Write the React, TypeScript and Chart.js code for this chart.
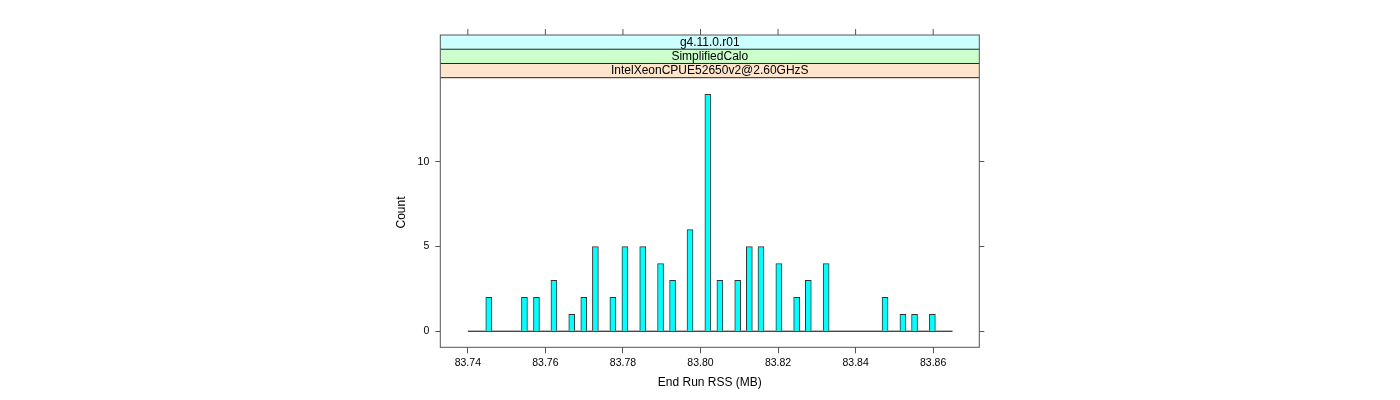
import React, { useEffect, useRef } from "react";
import { Chart, registerables } from "chart.js";

Chart.register(...registerables);

// Histogram bars (bin centre in MB, count)
const binCenters = [
  83.7454, 83.7546, 83.7577, 83.7622, 83.7668, 83.7699, 83.7729, 83.7774,
  83.7805, 83.7851, 83.7897, 83.7928, 83.7973, 83.8019, 83.805, 83.8096,
  83.8126, 83.8156, 83.8202, 83.8248, 83.8278, 83.8324, 83.8476, 83.8522,
  83.8552, 83.8598,
];
const counts = [
  2, 2, 2, 3, 1, 2, 5, 2, 5, 5, 4, 3, 6, 14, 3, 3, 5, 5, 4, 2, 3, 4, 2, 1, 1, 1,
];

// Histogram baseline extent (breaks range)
const baselineX = [83.74, 83.865];

// Axes
const xRange = [83.7329, 83.8719];
const yRange = [-0.95, 14.98];
const xTicks = [83.74, 83.76, 83.78, 83.8, 83.82, 83.84, 83.86];
const yTicks = [0, 5, 10];

// Strips (top to bottom)
const stripLabels = ["g4.11.0.r01", "SimplifiedCalo", "IntelXeonCPUE52650v2@2.60GHzS"];
const stripColors = ["#CCFFFF", "#CCFFCC", "#FFE5CC"];

const FONT = '"Liberation Sans", Arial, Helvetica, sans-serif';

export default function App() {
  const ref = useRef<HTMLCanvasElement>(null);

  useEffect(() => {
    if (!ref.current) return;
    const stripH = 14.23;
    const stripPlugin = {
      id: "latticeStrips",
      afterDraw(chart: any) {
        const { ctx, chartArea: a, scales } = chart;
        const top = a.top - stripH * stripLabels.length;
        ctx.save();
        stripLabels.forEach((lab, i) => {
          const y = top + i * stripH;
          ctx.fillStyle = stripColors[i];
          ctx.fillRect(a.left, y, a.right - a.left, stripH);
          ctx.fillStyle = "#000";
          ctx.font = `12px ${FONT}`;
          ctx.textAlign = "center";
          ctx.textBaseline = "middle";
          ctx.fillText(lab, (a.left + a.right) / 2, y + stripH / 2 + 0.5);
        });
        ctx.lineWidth = 1;
        ctx.strokeStyle = "#222";
        for (let i = 1; i <= stripLabels.length; i++) {
          const y = top + i * stripH;
          ctx.beginPath();
          ctx.moveTo(a.left, y);
          ctx.lineTo(a.right, y);
          ctx.stroke();
        }
        ctx.strokeStyle = "#555";
        ctx.strokeRect(a.left, top, a.right - a.left, a.bottom - top);
        // top tick marks
        const xs = scales.x;
        xs.ticks.forEach((t: any) => {
          const x = xs.getPixelForValue(t.value);
          ctx.beginPath();
          ctx.moveTo(x, top - 6);
          ctx.lineTo(x, top);
          ctx.stroke();
        });
        ctx.restore();
      },
    };

    const chart = new Chart(ref.current, {
      type: "bar",
      data: {
        datasets: [
          {
            type: "line",
            data: baselineX.map((x) => ({ x, y: 0 })),
            borderColor: "#000",
            borderWidth: 1,
            pointRadius: 0,
            order: 1,
          } as any,
          {
            type: "bar",
            data: binCenters.map((x, i) => ({ x, y: counts[i] })),
            backgroundColor: "#00FFFF",
            borderColor: "#333",
            borderWidth: 1,
            barThickness: 6,
            order: 0,
          } as any,
        ],
      },
      options: {
        responsive: false,
        animation: false,
        layout: { padding: { left: 390, right: 400, top: 77.7, bottom: 0 } },
        plugins: { legend: { display: false }, tooltip: { enabled: false } },
        scales: {
          x: {
            type: "linear",
            position: "bottom",
            min: xRange[0],
            max: xRange[1],
            offset: false,
            grid: { offset: false, drawOnChartArea: false, drawTicks: true, tickLength: 6, color: "#555" },
            border: { display: false },
            ticks: {
              color: "#000",
              font: { family: FONT, size: 10.5 },
              padding: 3.5,
              maxRotation: 0,
              autoSkip: false,
              callback: (v: any) => Number(v).toFixed(2),
            },
            title: {
              display: true,
              text: "End Run RSS (MB)",
              color: "#000",
              font: { family: FONT, size: 12 },
              padding: { top: 0, bottom: 9.8 },
            },
            afterBuildTicks: (s: any) => {
              s.ticks = xTicks.map((v) => ({ value: v }));
            },
            afterFit: (s: any) => {
              s.height = 52.7;
            },
          },
          y: {
            type: "linear",
            position: "left",
            min: yRange[0],
            max: yRange[1],
            grid: { offset: false, drawOnChartArea: false, drawTicks: true, tickLength: 5, color: "#555" },
            border: { display: false },
            ticks: {
              color: "#000",
              font: { family: FONT, size: 10.5 },
              padding: 6,
              callback: (v: any) => String(v),
            },
            title: {
              display: true,
              text: "Count",
              color: "#000",
              font: { family: FONT, size: 12 },
              padding: { top: 4.8, bottom: 0 },
            },
            afterBuildTicks: (s: any) => {
              s.ticks = yTicks.map((v) => ({ value: v }));
            },
            afterFit: (s: any) => {
              s.width = 50.3;
            },
          },
          y2: {
            type: "linear",
            position: "right",
            min: yRange[0],
            max: yRange[1],
            grid: { offset: false, drawOnChartArea: false, drawTicks: true, tickLength: 5, color: "#555" },
            border: { display: false },
            ticks: { display: false },
            afterBuildTicks: (s: any) => {
              s.ticks = yTicks.map((v) => ({ value: v }));
            },
            afterFit: (s: any) => {
              s.width = 20.7;
            },
          },
        },
      } as any,
      plugins: [stripPlugin],
    });
    return () => chart.destroy();
  }, []);

  return (
    <div style={{ position: "fixed", left: 0, top: 0, width: 1400, height: 400, background: "#fff" }}>
      <canvas ref={ref} width={1400} height={400} style={{ display: "block" }} />
    </div>
  );
}
